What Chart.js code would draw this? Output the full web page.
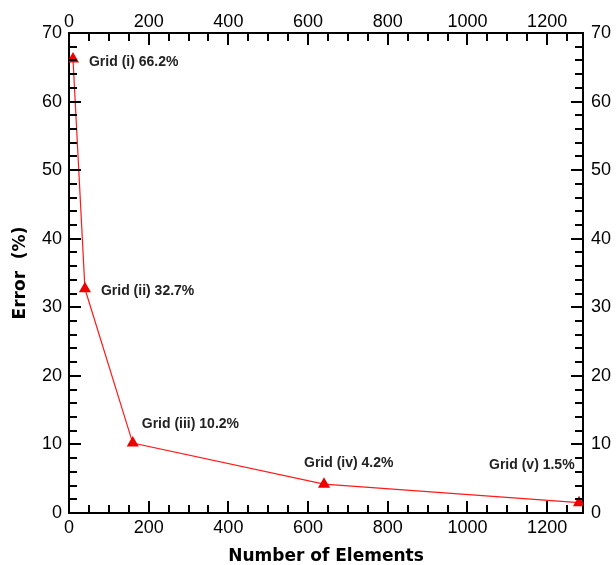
<!DOCTYPE html>
<html>
<head>
<meta charset="utf-8">
<script src="https://cdn.jsdelivr.net/npm/chart.js@4.4.0/dist/chart.umd.min.js"></script>
<style>
  html, body { margin: 0; padding: 0; background: #fff; }
  #wrap { width: 616px; height: 565px; }
</style>
</head>
<body>
<div id="wrap"><canvas id="errChart" width="616" height="565"></canvas></div>
<script>
// Données
const elements = [10, 40, 160, 640, 1280];
const errors = [66.2, 32.7, 10.2, 4.2, 1.5];
const gridNames = ['Grid (i)', 'Grid (ii)', 'Grid (iii)', 'Grid (iv)', 'Grid (v)'];
const xTicks = [0, 200, 400, 600, 800, 1000, 1200];
const yTicks = [0, 10, 20, 30, 40, 50, 60, 70];

const XMAX = 1290, YMAX = 70;
const tickFont = { family: 'Arial, "Liberation Sans", sans-serif', size: 18 };
const titleFont = { family: '"DejaVu Sans", Verdana, sans-serif', size: 17, weight: 'bold' };

// Position des étiquettes par rapport au point (dx, dy)
const labelOffsets = [[16, 3], [16, 2], [9, -19], [-20, -21], [-90, -38]];

// Petits traits vers l'intérieur (majeurs et mineurs)
const innerTicks = {
  id: 'innerTicks',
  afterDraw(chart) {
    const { ctx, chartArea: a } = chart;
    const xs = chart.scales.x, ys = chart.scales.y;
    ctx.save();
    ctx.strokeStyle = '#000';
    ctx.lineWidth = 2;
    ctx.beginPath();
    for (let v = 0; v <= XMAX; v += 50) {
      const px = Math.round(xs.getPixelForValue(v));
      const len = xTicks.includes(v) ? 12 : 8;
      ctx.moveTo(px, a.bottom); ctx.lineTo(px, a.bottom - len);
      ctx.moveTo(px, a.top); ctx.lineTo(px, a.top + len);
    }
    for (let v = 0; v <= YMAX; v += 2) {
      const py = Math.round(ys.getPixelForValue(v));
      const len = yTicks.includes(v) ? 12 : 8;
      ctx.moveTo(a.left, py); ctx.lineTo(a.left + len, py);
      ctx.moveTo(a.right, py); ctx.lineTo(a.right - len, py);
    }
    ctx.stroke();
    ctx.restore();
  }
};

// Étiquettes "Grid (x) y%"
const pointLabels = {
  id: 'pointLabels',
  afterDatasetsDraw(chart) {
    const { ctx } = chart;
    const xs = chart.scales.x, ys = chart.scales.y;
    ctx.save();
    ctx.fillStyle = '#222';
    ctx.font = 'bold 14px Arial, "Liberation Sans", sans-serif';
    ctx.textBaseline = 'middle';
    ctx.textAlign = 'left';
    elements.forEach((e, i) => {
      const px = xs.getPixelForValue(e), py = ys.getPixelForValue(errors[i]);
      ctx.fillText(gridNames[i] + ' ' + errors[i].toFixed(1) + '%', px + labelOffsets[i][0], py + labelOffsets[i][1]);
    });
    ctx.restore();
  }
};

function keepTicks(list) {
  return function(scale) { scale.ticks = list.map(v => ({ value: v })); };
}
function fixSize(prop, val) {
  return function(scale) { scale[prop] = val; };
}
const plain = v => String(v);

const ctx = document.getElementById('errChart').getContext('2d');
new Chart(ctx, {
  type: 'line',
  data: {
    datasets: [{
      data: elements.map((e, i) => ({ x: e, y: errors[i] })),
      borderColor: '#ff1a1a',
      backgroundColor: '#ee0000',
      borderWidth: 1.2,
      pointStyle: 'triangle',
      pointRadius: 7,
      pointBorderWidth: 0,
      tension: 0
    }]
  },
  options: {
    responsive: false,
    animation: false,
    layout: { padding: 0 },
    plugins: { legend: { display: false }, tooltip: { enabled: false } },
    scales: {
      x: {
        type: 'linear', position: 'bottom', min: 0, max: XMAX,
        afterBuildTicks: keepTicks(xTicks),
        afterFit: fixSize('height', 52),
        grid: { display: false, tickLength: 4 },
        border: { display: true, color: '#000', width: 2 },
        ticks: { color: '#000', font: tickFont, padding: 0, maxRotation: 0, callback: plain },
        title: { display: true, text: 'Number of Elements', color: '#000', font: titleFont, padding: { top: 0, bottom: -2 } }
      },
      x2: {
        type: 'linear', position: 'top', min: 0, max: XMAX,
        afterBuildTicks: keepTicks(xTicks),
        afterFit: fixSize('height', 33),
        grid: { display: false, tickLength: 0 },
        border: { display: true, color: '#000', width: 2 },
        ticks: { color: '#000', font: tickFont, padding: 0, maxRotation: 0, callback: plain }
      },
      y: {
        type: 'linear', position: 'left', min: 0, max: YMAX,
        afterBuildTicks: keepTicks(yTicks),
        afterFit: fixSize('width', 69),
        grid: { display: false, tickLength: 4 },
        border: { display: true, color: '#000', width: 2 },
        ticks: { color: '#000', font: tickFont, padding: 3, callback: plain },
        title: { display: true, text: 'Error  (%)', color: '#000', font: titleFont, padding: { top: 10 } }
      },
      y2: {
        type: 'linear', position: 'right', min: 0, max: YMAX,
        afterBuildTicks: keepTicks(yTicks),
        afterFit: fixSize('width', 33),
        grid: { display: false, tickLength: 4 },
        border: { display: true, color: '#000', width: 2 },
        ticks: { color: '#000', font: tickFont, padding: 4, callback: plain }
      }
    }
  },
  plugins: [innerTicks, pointLabels]
});
</script>
</body>
</html>
